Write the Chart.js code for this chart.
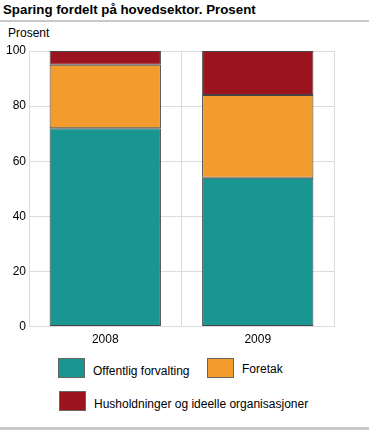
<!DOCTYPE html>
<html><head><meta charset="utf-8">
<script src="https://cdn.jsdelivr.net/npm/chart.js@4/dist/chart.umd.min.js"></script>
<style>
body{margin:0;background:#fff;font-family:"Liberation Sans",Arial,sans-serif;}
#wrap{position:relative;width:369px;height:430px;overflow:hidden;}
#title{position:absolute;left:3px;top:2px;font-size:13.3px;font-weight:bold;color:#000;}
#topline{position:absolute;left:0;top:20px;width:369px;height:2px;background:#c8c8c8;}
#unit{position:absolute;left:8px;top:26px;font-size:12px;color:#000;line-height:14px;}
#cw{position:absolute;left:0;top:40px;width:369px;height:313px;}
#bottomline{position:absolute;left:0;top:427px;width:369px;height:3px;background:#c8c8c8;}
.lg{position:absolute;font-size:12px;color:#000;}
.sw{position:absolute;width:27px;height:20px;border:1px solid #666;box-sizing:border-box;}
</style></head>
<body><div id="wrap">
<div id="title">Sparing fordelt på hovedsektor. Prosent</div>
<div id="topline"></div>
<div id="unit">Prosent</div>
<div id="cw"><canvas id="c" width="369" height="313"></canvas></div>
<div id="legend"></div>
<div id="bottomline"></div>
</div>
<script>
const categories = ["2008", "2009"];
const offentlig = [72, 54];
const foretak = [23, 30];
const husholdninger = [5, 16];
const seriesNames = ["Offentlig forvalting", "Foretak", "Husholdninger og ideelle organisasjoner"];
const colors = ["#1a9692", "#f39c2e", "#9c141d"];
const yTicks = [0, 20, 40, 60, 80, 100];

const data = {
  labels: categories,
  datasets: [offentlig, foretak, husholdninger].map((v, i) => ({
    label: seriesNames[i], data: v, backgroundColor: colors[i],
    borderColor: "#444", borderWidth: 1, borderSkipped: false,
    barPercentage: 0.73, categoryPercentage: 1
  }))
};
new Chart(document.getElementById("c"), {
  type: "bar", data,
  options: {
    responsive: false, animation: false, devicePixelRatio: 1,
    layout: { padding: { top: 11, right: 35, left: 3, bottom: 0 } },
    plugins: { legend: { display: false }, tooltip: { enabled: false } },
    scales: {
      x: { stacked: true, grid: { color: "#dcdcdc", offset: true, drawTicks: false },
           border: { color: "#dcdcdc" },
           ticks: { color: "#000", font: { family: "Liberation Sans", size: 12 }, padding: 6 } },
      y: { stacked: true, min: 0, max: 100,
           afterBuildTicks: ax => { ax.ticks = yTicks.map(v => ({ value: v })); },
           grid: { color: "#dcdcdc", drawTicks: false },
           border: { color: "#dcdcdc" },
           ticks: { color: "#000", font: { family: "Liberation Sans", size: 12 }, padding: 3 } }
    }
  }
});
// legend
const pos = [[58, 358], [207, 358], [59, 391]];
const lg = document.getElementById("legend");
seriesNames.forEach((n, i) => {
  const s = document.createElement("div"); s.className = "sw";
  s.style.left = pos[i][0] + "px"; s.style.top = pos[i][1] + "px"; s.style.background = colors[i];
  lg.appendChild(s);
  const t = document.createElement("div"); t.className = "lg"; t.textContent = n;
  t.style.left = (pos[i][0] + 35) + "px"; t.style.top = (pos[i][1] + (i === 1 ? 4 : 6)) + "px";
  lg.appendChild(t);
});
</script>
</body></html>
